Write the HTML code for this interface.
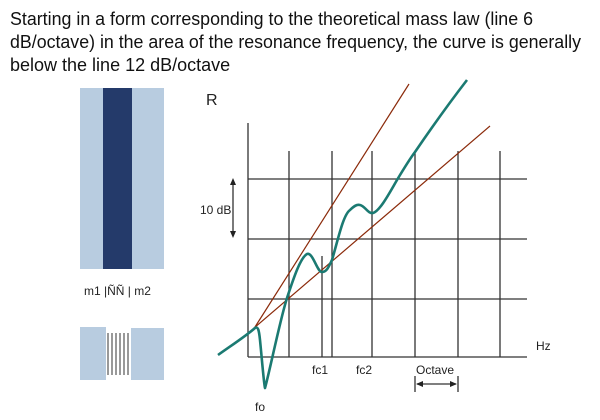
<!DOCTYPE html><html><head><style>body{margin:0;background:#fff}svg{display:block}text{font-family:"Liberation Sans",sans-serif}</style></head><body>
<svg width="600" height="420" viewBox="0 0 600 420">
<text font-size="18" fill="#111"><tspan x="10" y="25" textLength="523" lengthAdjust="spacingAndGlyphs">Starting in a form corresponding to the theoretical mass law (line 6</tspan><tspan x="10" y="48" textLength="571" lengthAdjust="spacingAndGlyphs">dB/octave) in the area of the resonance frequency, the curve is generally</tspan><tspan x="10" y="71">below the line 12 dB/octave</tspan></text>
<rect x="80" y="88" width="84" height="181" fill="#b8cce0"/>
<rect x="103" y="88" width="29" height="181" fill="#243a6a"/>
<text x="84" y="295" font-size="12" fill="#222">m1 |ÑÑ  | m2</text>
<rect x="80" y="327" width="26" height="53" fill="#b8cce0"/>
<rect x="131" y="328" width="33" height="52" fill="#b8cce0"/>
<g stroke="#333" stroke-width="1"><line x1="108" y1="333" x2="108" y2="375"/><line x1="112" y1="333" x2="112" y2="375"/><line x1="116" y1="333" x2="116" y2="375"/><line x1="120" y1="333" x2="120" y2="375"/><line x1="124" y1="333" x2="124" y2="375"/><line x1="128" y1="333" x2="128" y2="375"/></g>
<g stroke="#333" stroke-width="1.3" fill="none">
<line x1="248" y1="123" x2="248" y2="357"/>
<line x1="289" y1="151" x2="289" y2="357"/>
<line x1="332" y1="151" x2="332" y2="357"/>
<line x1="372" y1="151" x2="372" y2="357"/>
<line x1="415" y1="151" x2="415" y2="357"/>
<line x1="458" y1="151" x2="458" y2="357"/>
<line x1="500" y1="151" x2="500" y2="357"/>
<line x1="322" y1="256" x2="322" y2="357"/>
<line x1="248" y1="179" x2="527" y2="179"/>
<line x1="248" y1="239" x2="527" y2="239"/>
<line x1="248" y1="299" x2="527" y2="299"/>
<line x1="248" y1="357" x2="527" y2="357"/>
<line x1="233" y1="182" x2="233" y2="235"/>
<line x1="417" y1="384" x2="456" y2="384"/>
<line x1="415" y1="376" x2="415" y2="392"/>
<line x1="458" y1="376" x2="458" y2="392"/>
</g>
<path d="M233,178 l-3,7 h6z M233,238 l-3,-7 h6z M416,384 l7,-3 v6z M457,384 l-7,-3 v6z" fill="#222"/>
<g stroke="#8b2a0a" stroke-width="1.2"><line x1="255" y1="327" x2="409" y2="84"/><line x1="254" y1="328" x2="490" y2="126"/></g>
<path d="M218,355 C232,345 246,336 255,328 C258,326 259,330 260,340 C262,360 264,385 265,388 C270,370 280,320 287,298 C293,280 300,258 307,254 C313,252 317,272 322,272 C327,272 329,266 332,260 C338,240 343,215 350,210 C354,206 357,204 360,205 C365,206 368,214 373,213 C380,211 390,192 397,180 C403,170 409,160 415,152 C430,130 450,102 467,80" fill="none" stroke="#1b7a72" stroke-width="2.6" stroke-linejoin="round"/>
<g fill="#222" font-size="12"><text x="200" y="214">10 dB</text><text x="536" y="350">Hz</text><text x="312" y="374">fc1</text><text x="356" y="374">fc2</text><text x="416" y="374">Octave</text><text x="255" y="411">fo</text></g>
<text x="206" y="105" font-size="16" fill="#222">R</text>
</svg></body></html>
